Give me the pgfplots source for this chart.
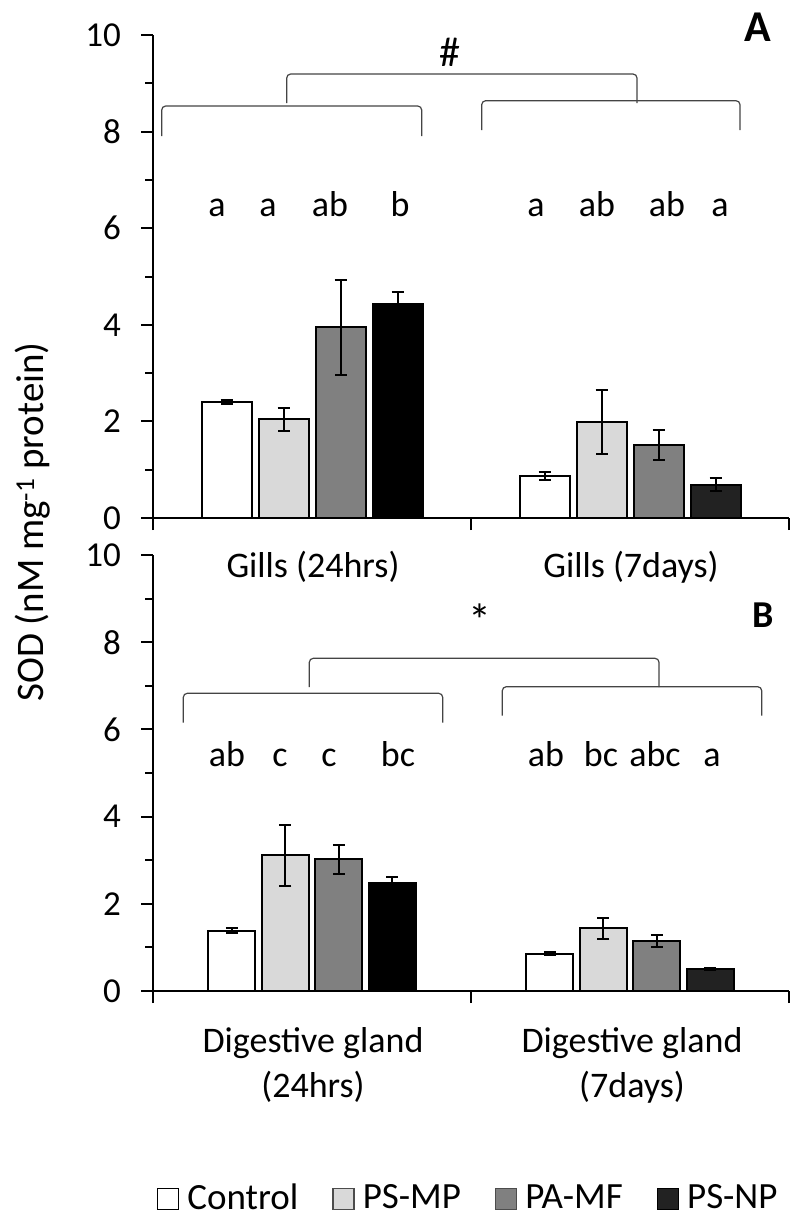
\documentclass[border=0pt]{standalone}
\usepackage{fontspec}
\setmainfont{Carlito}
\usepackage{pgfplots}
\pgfplotsset{compat=1.18}
\usepackage{pgfplotstable}

\definecolor{cLight}{HTML}{D9D9D9}
\definecolor{cMid}{HTML}{808080}
\definecolor{cDark}{HTML}{222222}
\definecolor{brk}{HTML}{444444}

% Panel A (Gills): x = group position (0.5 = 24hrs, 1.5 = 7days)
\pgfplotstableread{
x y e
0.5 2.41 0.04
1.5 0.87 0.08
}\AControl
\pgfplotstableread{
x y e
0.5 2.04 0.24
1.5 1.98 0.66
}\APSMP
\pgfplotstableread{
x y e
0.5 3.95 0.98
1.5 1.51 0.31
}\APAMF
\pgfplotstableread{
x y e
0.5 4.43 0.24
}\APSNPa
\pgfplotstableread{
x y e
1.5 0.69 0.13
}\APSNPb

% Panel B (Digestive gland)
\pgfplotstableread{
x y e
0.5 1.385 0.05
1.5 0.857 0.03
}\BControl
\pgfplotstableread{
x y e
0.5 3.11 0.69
1.5 1.44 0.24
}\BPSMP
\pgfplotstableread{
x y e
0.5 3.02 0.33
1.5 1.14 0.14
}\BPAMF
\pgfplotstableread{
x y e
0.5 2.48 0.14
}\BPSNPa
\pgfplotstableread{
x y e
1.5 0.50 0.02
}\BPSNPb

\pgfplotsset{
  sodaxis/.style={
    scale only axis, width=636bp,
    xmin=0, xmax=2, ymin=0, ymax=10,
    axis lines=left, axis line style={-, line width=2bp, black},
    xtick={0,1,2}, xticklabels={},
    ytick={0,2,...,10}, minor ytick={1,3,...,9},
    tick align=outside, major tick length=12bp, minor tick length=8bp,
    every tick/.style={black, line width=2bp},
    /pgf/number format/assume math mode=true,
    yticklabel style={font=\fontsize{35bp}{40bp}\selectfont, inner sep=0pt, xshift=-20bp},
    clip=false,
  },
  sodbar/.style={
    ybar, bar shift=0pt, forget plot, draw=black, line width=2bp,
    error bars/y dir=both, error bars/y explicit,
    error bars/error bar style={line width=2bp, black},
    error bars/error mark options={rotate=90, line width=2bp, black, mark size=6bp},
  },
}

\begin{document}
\begin{tikzpicture}
\useasboundingbox (0,0) rectangle (792bp,-1218bp);

% ---------- Panel A ----------
\begin{axis}[sodaxis, height=483bp, at={(153bp,-518bp)}, anchor=south west]
\addplot[sodbar, bar width=50bp, fill=white] table[x expr=\thisrow{x}-0.26887, y=y, y error=e]{\AControl};
\addplot[sodbar, bar width=50bp, fill=cLight] table[x expr=\thisrow{x}-0.08962, y=y, y error=e]{\APSMP};
\addplot[sodbar, bar width=50bp, fill=cMid] table[x expr=\thisrow{x}+0.08962, y=y, y error=e]{\APAMF};
\addplot[sodbar, bar width=50bp, fill=black] table[x expr=\thisrow{x}+0.26887, y=y, y error=e]{\APSNPa};
\addplot[sodbar, bar width=50bp, fill=cDark] table[x expr=\thisrow{x}+0.26887, y=y, y error=e]{\APSNPb};
\end{axis}

% ---------- Panel B ----------
\begin{axis}[sodaxis, height=436bp, at={(153bp,-991bp)}, anchor=south west,
  legend columns=4,
  legend image code/.code={\draw[#1, line width=1.4bp] (0bp,-12bp) rectangle (21bp,9bp);},
  legend style={at={(0.006,-0.473)}, anchor=west, draw=none, fill=none, inner sep=0pt,
    font=\fontsize{37bp}{42bp}\selectfont,
    nodes={inner sep=0pt},
    /tikz/every odd column/.append style={column sep=8bp},
    /tikz/every even column/.append style={column sep=34bp}},
]
\addplot[sodbar, bar width=47bp, fill=white] table[x expr=\thisrow{x}-0.25236, y=y, y error=e]{\BControl};
\addplot[sodbar, bar width=47bp, fill=cLight] table[x expr=\thisrow{x}-0.08412, y=y, y error=e]{\BPSMP};
\addplot[sodbar, bar width=47bp, fill=cMid] table[x expr=\thisrow{x}+0.08412, y=y, y error=e]{\BPAMF};
\addplot[sodbar, bar width=47bp, fill=black] table[x expr=\thisrow{x}+0.25236, y=y, y error=e]{\BPSNPa};
\addplot[sodbar, bar width=47bp, fill=cDark] table[x expr=\thisrow{x}+0.25236, y=y, y error=e]{\BPSNPb};
\addlegendimage{fill=white, draw=black}
\addlegendimage{fill=cLight, draw=black!70}
\addlegendimage{fill=cMid, draw=black!70}
\addlegendimage{fill=cDark, draw=black}
\legend{Control, PS-MP, PA-MF, PS-NP}
\end{axis}

% ---------- annotations ----------
\begin{scope}[every node/.style={font=\fontsize{36bp}{43bp}\selectfont, inner sep=0pt}]
% category labels
\node[anchor=base] at (313bp,-577bp) {Gills (24hrs)};
\node[anchor=base] at (631bp,-577bp) {Gills (7days)};
\node[anchor=base] at (313bp,-1052bp) {Digestive gland};
\node[anchor=base] at (313bp,-1097bp) {(24hrs)};
\node[anchor=base] at (632bp,-1052bp) {Digestive gland};
\node[anchor=base] at (632bp,-1097bp) {(7days)};
% y label
\node[anchor=base, rotate=90, font=\fontsize{39bp}{45bp}\selectfont] at (43bp,-522bp) {SOD (nM mg\textsuperscript{-1} protein)};
% significance letters A
\foreach \xx/\tt in {217/a, 268/a, 330/ab, 400/b, 536/a, 597/ab, 667/ab, 720/a}
  \node[anchor=base] at (\xx bp,-216.5bp) {\tt};
% significance letters B
\foreach \xx/\tt in {227/ab, 280/c, 329/c, 398/bc, 546/ab, 601/bc, 655/abc, 712/a}
  \node[anchor=base] at (\xx bp,-766bp) {\tt};
\node[font=\fontsize{42bp}{48bp}\selectfont] at (450bp,-52bp) {\#};
\node[font=\fontsize{46bp}{52bp}\selectfont] at (480bp,-620bp) {*};
\node[font=\fontsize{44bp}{50bp}\selectfont\bfseries] at (758bp,-27.5bp) {A};
\node[font=\fontsize{38bp}{44bp}\selectfont\bfseries] at (763.5bp,-615bp) {B};
\end{scope}

% brackets
\begin{scope}[draw=brk, line width=1.2bp, rounded corners=4bp]
\draw (286.7bp,-103bp) -- (286.7bp,-74bp) -- (637bp,-74bp) -- (637bp,-103bp);
\draw (161.7bp,-136bp) -- (161.7bp,-106bp) -- (421.7bp,-106bp) -- (421.7bp,-136bp);
\draw (481.7bp,-130bp) -- (481.7bp,-100.7bp) -- (740bp,-100.7bp) -- (740bp,-130bp);
\draw (309.3bp,-687bp) -- (309.3bp,-658.3bp) -- (659bp,-658.3bp) -- (659bp,-687bp);
\draw (183.3bp,-722.7bp) -- (183.3bp,-693.3bp) -- (442.7bp,-693.3bp) -- (442.7bp,-722.7bp);
\draw (502.3bp,-715.7bp) -- (502.3bp,-686.7bp) -- (761.7bp,-686.7bp) -- (761.7bp,-715.7bp);
\end{scope}
\end{tikzpicture}
\end{document}
